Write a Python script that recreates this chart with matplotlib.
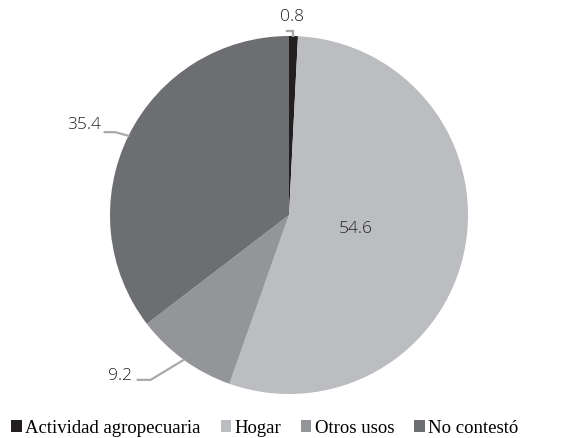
import numpy as np
import matplotlib.pyplot as plt
from matplotlib.patches import Patch

categorias = ['Actividad agropecuaria', 'Hogar', 'Otros usos', 'No contestó']
porcentajes = [0.8, 54.6, 9.2, 35.4]
colores = ['#231f20', '#bcbdc0', '#939598', '#6d6e71']

W, H = 564, 439
fig = plt.figure(figsize=(W / 100, H / 100), dpi=100)
# pie centre (289, 216) px, radius 179 px
cx, cy, r = 289, 216, 179
ax = fig.add_axes([(cx - r) / W, (H - cy - r) / H, 2 * r / W, 2 * r / H])
wedges, _ = ax.pie(porcentajes, colors=colores, startangle=90, counterclock=False,
                   radius=1, wedgeprops=dict(linewidth=0))
ax.set_xlim(-1, 1)
ax.set_ylim(-1, 1)
ax.set_aspect('equal')
ax.axis('off')

num_font = dict(family=['Open Sans', 'Liberation Sans'], fontweight='light',
                fontsize=12.5, color='#222222')
linea = dict(color='#a7a9ac', lw=1.6, clip_on=False, solid_joinstyle='miter')


def punto(ang, rad):
    a = np.deg2rad(ang)
    return rad * np.cos(a), rad * np.sin(a)


for w, val in zip(wedges, porcentajes):
    mid = (w.theta1 + w.theta2) / 2
    etiqueta = f'{val:.1f}'
    x0, y0 = punto(mid, 1.0)
    if val > 50:
        x, y = punto(mid, 0.38)
        ax.text(x, y, etiqueta, ha='center', va='center', **num_font)
    elif val < 2:
        y1 = y0 + 0.03
        ax.plot([x0, x0, x0 - 0.035], [y0, y1, y1], **linea)
        ax.text(x0 - 0.01, y1 + 0.035, etiqueta, ha='center', va='bottom', **num_font)
    elif y0 < 0:
        # lower-left label
        x1, y1 = x0 - 0.185, y0 - 0.112
        x2 = x1 - 0.072
        ax.plot([x0, x1, x2], [y0, y1, y1], **linea)
        ax.text(x2 - 0.035, y1 + 0.028, etiqueta, ha='right', va='center', **num_font)
    else:
        # upper-left label
        x1, y1 = x0 - 0.075, y0 + 0.02
        x2 = x1 - 0.058
        ax.plot([x0, x1, x2], [y0, y1, y1], **linea)
        ax.text(x2 - 0.02, y1 + 0.045, etiqueta, ha='right', va='center', **num_font)

handles = [Patch(facecolor=c, edgecolor='none') for c in colores]
fig.legend(handles, categorias, loc='center', bbox_to_anchor=(265 / W, 1 - 429 / H),
           ncol=4, frameon=False, handlelength=0.55, handleheight=0.6,
           handletextpad=0.2, columnspacing=1.05, borderpad=0, borderaxespad=0,
           prop=dict(family='Liberation Serif', size=13.5))

fig.savefig('out.png', dpi=100)
